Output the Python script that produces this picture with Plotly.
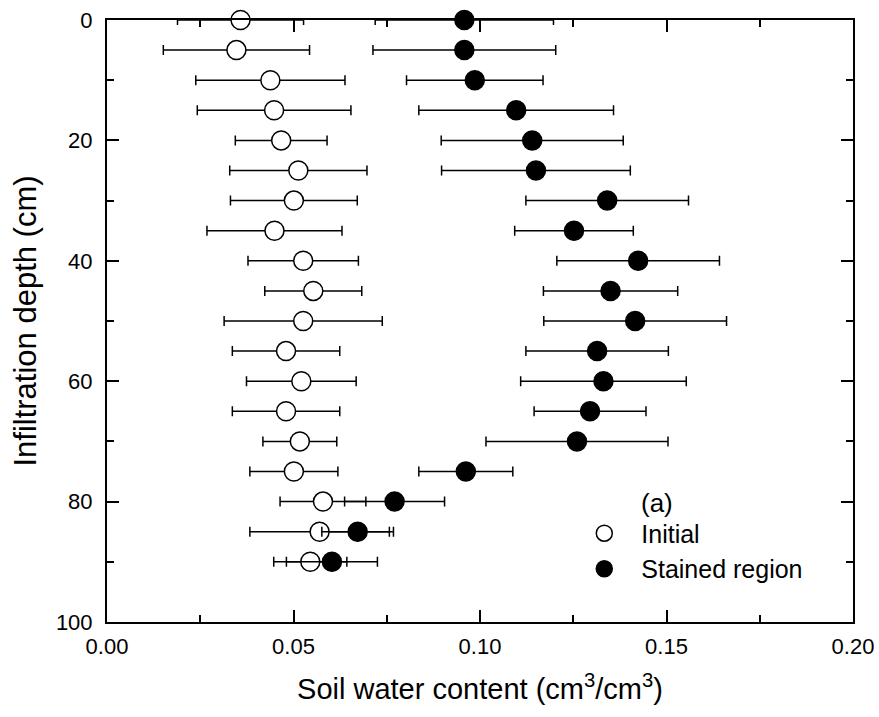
import plotly.graph_objects as go

depth = [0, 5, 10, 15, 20, 25, 30, 35, 40, 45, 50, 55, 60, 65, 70, 75, 80, 85, 90]

initial_mean = [0.0358, 0.0347, 0.0438, 0.0448, 0.0467, 0.0513, 0.0501, 0.0449, 0.0526, 0.0553,
                0.0526, 0.0480, 0.0521, 0.0480, 0.0517, 0.0501, 0.0579, 0.0570, 0.0545]
initial_sd = [0.0169, 0.0196, 0.0200, 0.0206, 0.0123, 0.0184, 0.0170, 0.0181, 0.0148, 0.0130,
              0.0212, 0.0144, 0.0147, 0.0144, 0.0099, 0.0118, 0.0115, 0.0187, 0.0098]

stained_mean = [0.0958, 0.0958, 0.0986, 0.1097, 0.1140, 0.1150, 0.1341, 0.1252, 0.1424, 0.1350,
                0.1416, 0.1314, 0.1331, 0.1295, 0.1260, 0.0962, 0.0771, 0.0672, 0.0603]
stained_sd = [0.0239, 0.0245, 0.0183, 0.0261, 0.0244, 0.0253, 0.0218, 0.0159, 0.0218, 0.0180,
              0.0245, 0.0191, 0.0222, 0.0150, 0.0244, 0.0126, 0.0134, 0.0096, 0.0122]

x_ticks = [0.00, 0.05, 0.10, 0.15, 0.20]
x_ticklabels = ["0.00", "0.05", "0.10", "0.15", "0.20"]
y_ticks = [0, 20, 40, 60, 80, 100]

FONT = "Liberation Sans, Arial, sans-serif"

fig = go.Figure()
fig.add_trace(go.Scatter(
    x=initial_mean, y=depth, mode="markers", name="Initial", cliponaxis=False,
    marker=dict(symbol="circle", size=19, color="white", line=dict(color="black", width=1.5)),
    error_x=dict(type="data", array=initial_sd, visible=True, color="black", thickness=1.5, width=5),
))
fig.add_trace(go.Scatter(
    x=stained_mean, y=depth, mode="markers", name="Stained region", cliponaxis=False,
    marker=dict(symbol="circle", size=19, color="black", line=dict(color="black", width=1.5)),
    error_x=dict(type="data", array=stained_sd, visible=True, color="black", thickness=1.5, width=5),
))

axis_common = dict(
    showline=True, linecolor="black", linewidth=2, mirror="allticks",
    ticks="inside", ticklen=12, tickwidth=2, tickcolor="black",
    showgrid=False, zeroline=False, automargin=False,
    tickfont=dict(family=FONT, size=22, color="black"),
)

fig.update_xaxes(
    range=[0, 0.20], tickvals=x_ticks, ticktext=x_ticklabels,
    minor=dict(dtick=0.025, ticks="inside", ticklen=7, tickwidth=2, tickcolor="black", showgrid=False),
    title=dict(text="Soil water content (cm<sup>3</sup>/cm<sup>3</sup>)", font=dict(family=FONT, size=29, color="black"), standoff=20),
    ticklabelstandoff=4,
    **axis_common,
)
fig.update_yaxes(
    range=[100, 0], tickvals=y_ticks,
    minor=dict(dtick=10, ticks="inside", ticklen=7, tickwidth=2, tickcolor="black", showgrid=False),
    title=dict(text="Infiltration depth (cm)", font=dict(family=FONT, size=31, color="black"), standoff=10),
    ticklabelstandoff=8,
    **axis_common,
)

fig.add_annotation(
    text="(a)", xref="paper", yref="paper", x=0.713, y=0.198,
    xanchor="left", yanchor="middle", showarrow=False,
    font=dict(family=FONT, size=26, color="black"),
)

fig.update_layout(
    width=879, height=717,
    margin=dict(l=107, r=26, t=20, b=95),
    plot_bgcolor="white", paper_bgcolor="white",
    font=dict(family=FONT, color="black"),
    showlegend=True,
    legend=dict(
        x=0.617, y=0.118, xanchor="left", yanchor="middle",
        bgcolor="rgba(0,0,0,0)", borderwidth=0,
        font=dict(family=FONT, size=25, color="black"),
        itemsizing="trace", itemwidth=64,
    ),
)

fig.write_html("out.html")
